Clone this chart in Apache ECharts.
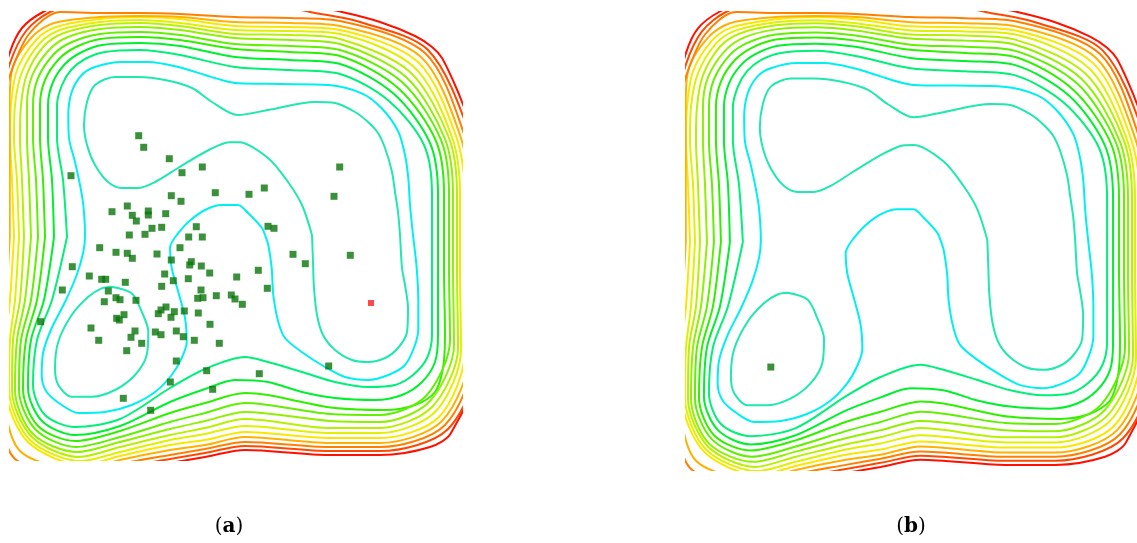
<!DOCTYPE html>
<html><head><meta charset="utf-8">
<script src="https://cdn.jsdelivr.net/npm/echarts@6/dist/echarts.min.js"></script>
<style>html,body{margin:0;padding:0;background:#fff}#c{width:1137px;height:543px}</style>
</head><body><div id="c"></div>
<script>
// colours of the contour levels, innermost (1) to outermost (14)
const levelColors = ['#20e8b0','#00f0f0','#00f07a','#00f030','#30f000','#60f000','#90f000','#b8f000','#e0f000','#f8e800','#ffb000','#ff8000','#ff4800','#ff1000'];

// contour lines, as [x, y] in the panel's data space
const level1a = [[111.7,286.7],[131.7,293.3],[141.7,311.7],[148.3,331.7],[146.7,355],[135,375],[115,390],[91.7,396.7],[71.7,396.7],[58.3,385],[55,368.3],[58.3,341.7],[71.7,315],[88.3,296.7],[101.7,288.3],[111.7,286.7]];
const level1b = [[312,235],[302,205],[288,182],[268,158],[238,142],[225,143],[205,152],[178,168],[155,182],[138,188],[122,188],[108,182],[95,165],[87,145],[84,125],[87,102],[95,85],[115,77],[138,77],[165,80],[192,88],[212,102],[238,115],[268,110],[315,102],[335,103],[355,112],[368,122],[378,133],[385,148],[392,172],[395,192],[398,212],[400,235],[402,268],[405,285],[408,308],[407,332],[398,348],[385,358],[368,362],[352,360],[335,350],[323,335],[317,315],[314,288],[313,262],[312,235]];
const level2 = [[176.7,235],[170,248],[171.7,268],[178.3,292],[185,318],[186.7,342],[181.7,358],[171.7,375],[155,392],[131.7,405],[105,412],[78.3,413],[61.7,405],[46.7,392],[41.7,375],[43.3,352],[51.7,328],[65,302],[76.7,275],[83.3,252],[85,235],[83.3,205],[80,185],[75,162],[69,138],[68.3,115],[71.7,92],[81.7,75],[95,67],[121.7,62],[148.3,62],[178.3,67],[205,75],[221.7,80],[238.3,83.3],[280,84],[328.3,85],[361.7,93.3],[381.7,108.3],[398.3,131.7],[405,155],[408.3,178.3],[410,205],[413,235],[416.7,268],[418.3,302],[418.3,328],[415,345],[405,365],[388.3,375],[368.3,380],[345,377],[325,367],[301.7,352],[285,338],[278.3,322],[273.3,295],[271.7,268],[268.3,245],[265,235],[262,228],[248,213],[238,205],[221.7,205],[205,210],[188.3,222],[176.7,235]];
const level3 = [[67,237],[63,180],[57,138],[57,105],[62,85],[71,70],[85,59],[105,52],[140,50],[180,55],[235,67],[290,70],[340,74],[389,101],[424,145],[432,195],[432,268],[432,335],[427,358],[413,375],[395,385],[368,387],[335,382],[302,372],[268,362],[245,357],[205,369],[170,388],[120,419],[75,427],[45,415],[33,385],[37,340],[52,300],[67,237]];
const level4 = [[54,237],[52,180],[48,138],[48,105],[53,82],[65,64],[80,53],[102,45],[140,43],[180,46],[235,57],[290,60],[340,64],[394,94],[430,143],[438,195],[438,268],[438,335],[435,362],[422,382],[402,395],[375,400],[335,398],[302,392],[268,382],[235,380],[205,389],[170,402],[120,426],[75,435],[42,421],[28,388],[31,340],[44,300],[54,237]];
const level5 = [[45,237],[43,180],[40,138],[40,105],[45,80],[59,59],[76,47],[100,39],[140,37],[180,40],[235,49],[290,52],[340,56],[398,88],[436,141],[444,195],[444,268],[445,335],[443,368],[435,392],[415,405],[385,410],[335,408],[302,402],[268,395],[245,393],[205,403],[170,413],[120,431],[75,441],[38,426],[23,389],[26,340],[37,300],[45,237]];
const level6 = [[38,237],[36,180],[33,138],[33,105],[38,78],[54,54],[72,42],[100,34],[140,32],[180,35],[235,44],[290,46],[340,50],[402,82],[441,140],[449,195],[449,268],[450,340],[426,396],[380,415],[330,414],[245,403],[205,413],[170,422],[120,437],[76,447],[36,430],[19,390],[21,340],[31,300],[38,237]];
const level7 = [[31,237],[29,180],[27,138],[27,105],[32,76],[49,50],[68,37],[100,29],[140,27],[180,30],[235,38],[290,40],[340,44],[406,77],[445,139],[453,195],[453,268],[454,345],[429,402],[380,422],[330,421],[245,412],[205,421],[170,429],[120,442],[77,452],[33,434],[15,390],[17,340],[25,300],[31,237]];
const level8 = [[24,237],[22,180],[20,138],[21,105],[27,74],[44,46],[64,33],[100,25],[140,23],[180,26],[235,34],[290,35],[340,39],[410,72],[449,138],[457,195],[457,268],[458,348],[432,407],[380,428],[330,428],[245,419],[205,428],[170,435],[120,447],[79,457],[32,437],[12,390],[13,340],[20,300],[24,237]];
const level9 = [[19,237],[17,180],[14,138],[15,105],[22,72],[40,43],[60,30],[100,22],[140,20],[180,23],[235,30],[290,31],[340,34],[414,67],[452,137],[460,195],[460,268],[461,350],[435,412],[380,433],[330,433],[245,426],[205,434],[170,440],[120,452],[81,461],[30,440],[9,389],[10,340],[15,300],[19,237]];
const level10 = [[14,237],[12,180],[10,138],[11,105],[17,70],[36,40],[56,27],[100,19],[140,17],[180,19],[235,26],[290,27],[340,30],[418,62],[456,136],[465,195],[465,268],[465,350],[439,417],[380,438],[330,438],[245,432],[205,440],[170,445],[120,456],[83,465],[28,442],[6,388],[6,340],[10,300],[14,237]];
const level11 = [[9.7,237],[9.7,180],[9.7,138],[9.5,110],[12,70],[32,37],[54,23],[100,17],[140,16],[180,17],[235,22],[290,23],[340,26],[421,57],[460,135],[469,195],[469,268],[470,350],[442,421],[380,443],[330,443],[245,437],[205,445],[170,450],[120,460],[85,469],[20,451],[3,387],[2,340],[6,300],[9.7,237]];
const level12 = [[6,237],[5,180],[3,138],[5,100],[10,75],[29,34],[60,12],[100,13],[140,13],[180,14],[235,17],[290,18],[340,21],[425,53],[464,134],[474,195],[474,268],[474,350],[445,425],[380,447],[330,447],[245,442],[205,449],[170,455],[120,464],[87,473],[14,458],[0,386],[-2,340],[2,300],[6,237]];
const level13 = [[2,237],[1,180],[-1,138],[2,100],[10,63],[26,31],[50,12],[80,5],[140,3],[235,5],[290,8],[310,12],[360,22],[428,50],[468,130],[479,195],[479,268],[479,350],[448,429],[380,451],[330,451],[245,446],[205,453],[170,459],[120,468],[89,477],[8,464],[-3,385],[-5,340],[-2,300],[2,237]];
const level14 = [[-2,237],[-3,180],[-5,138],[-2,100],[10,52],[22,28],[43,12],[70,2],[140,-3],[235,-1],[290,2],[342,12],[380,22],[415,36],[432,47],[442,58],[455,85],[462,102],[472,130],[484,195],[484,268],[484,350],[451,433],[430,447],[380,455],[330,455],[245,450],[205,457],[170,463],[120,472],[91,481],[2,470],[-6,384],[-8,340],[-6,300],[-2,237]];

// contour level of each line above (1-based)
const contourLines = [level1a, level1b, level2, level3, level4, level5, level6, level7, level8, level9, level10, level11, level12, level13, level14];
const contourLevels = [1, 1, 2, 3, 4, 5, 6, 7, 8, 9, 10, 11, 12, 13, 14];

// population of panel (a)
const pointsA = [[138.7,135.7],[143.7,147.3],[169.3,158.7],[182,172.7],[202.3,167],[71,175.7],[215.3,192.7],[171.3,195.7],[181,201.3],[112,211.7],[127.3,206],[132.3,215.3],[148.3,211],[148.3,215],[165.7,213.7],[136.3,221],[152,228.3],[161.7,227.3],[196.3,226.7],[129.3,235],[145,234.3],[188.7,237],[202.3,237],
[99.7,247.7],[116,252.3],[127.3,253.3],[132.3,258.3],[157,254],[180,247.7],[171.3,260],[189.7,265],[191.3,261.7],[201.3,266],[72.3,266.7],[89.3,276],[101.7,279.3],[105.7,279.3],[125.3,282.3],[164.7,274],[173.3,280.7],[188.3,278.7],[209.7,273],[236.7,277],[62.3,290],[108.3,291],[161.7,286.3],[201,290],[216.3,295.7],[197.7,298.3],[203,297.7],[231.3,295],[235,299],[104.3,301.7],[116,297.7],[120,299.7],[136,300.3],[166,307],[161,310],[158.3,313.7],[174.3,311.7],[171,317.3],[184.3,311],[198.3,313],[124,314.7],[116.7,318.3],[119.3,320],[40.7,321.7],[210,324.3],[91,328],[135,331],[131,337.3],[155.3,332],[161,334.7],[176.3,331],[183.3,336.7],[194.3,340.3],[98.7,340.3],[141.7,343.3],[126.7,350.7],[219.3,343.3],[176.3,361],[206.7,370.7],[170.3,382],[212.7,389.3],[123.3,398.3],[150.7,410.3],
[339.7,167],[264.3,188],[249,194.3],[334,196.3],[268,226.3],[274,228.3],[293,254.3],[305.3,263.7],[350.3,255.3],[258.3,270.3],[267.3,288.3],[242.3,304.3],[328.7,366],[259.3,373.7]];
const bestA = [[371,303]];
const pointsB = [[95,359.3]];

const panelLabels = ['a', 'b'];

const chart = echarts.init(document.getElementById('c'), null, {renderer: 'canvas'});
const grids = [
  {left: 10, top: 12, width: 452, height: 448},
  {left: 686, top: 12, width: 451, height: 458}
];
const xAxes = grids.map((g, i) => ({gridIndex: i, type: 'value', min: 10, max: 462, show: false}));
const yAxes = grids.map((g, i) => ({gridIndex: i, type: 'value', min: 12, max: 460, inverse: true, show: false}));
const series = [];
for (let p = 0; p < 2; p++) {
  contourLines.forEach((pts, i) => {
    series.push({
      type: 'line', xAxisIndex: p, yAxisIndex: p, data: pts, showSymbol: false, symbol: 'none',
      smooth: 0.3, clip: true, silent: true, animation: false,
      lineStyle: {color: levelColors[contourLevels[i] - 1], width: 2}
    });
  });
}
series.push({type: 'scatter', xAxisIndex: 0, yAxisIndex: 0, data: pointsA, symbol: 'rect', symbolSize: 7, itemStyle: {color: '#0a760a'}, animation: false, z: 5});
series.push({type: 'scatter', xAxisIndex: 0, yAxisIndex: 0, data: bestA, symbol: 'rect', symbolSize: 6, itemStyle: {color: '#ff1a1a'}, animation: false, z: 6});
series.push({type: 'scatter', xAxisIndex: 1, yAxisIndex: 1, data: pointsB, symbol: 'rect', symbolSize: 7, itemStyle: {color: '#0a760a'}, animation: false, z: 5});

const labelX = [229, 911];
chart.setOption({
  animation: false,
  grid: grids,
  xAxis: xAxes,
  yAxis: yAxes,
  series: series,
  graphic: panelLabels.map((t, i) => ({
    type: 'text', x: labelX[i], y: 527,
    style: {
      text: '{n|(}{b|' + t + '}{n|)}',
      align: 'center', verticalAlign: 'middle',
      rich: {
        n: {fontFamily: 'DejaVu Serif', fontSize: 20, fill: '#000'},
        b: {fontFamily: 'DejaVu Serif', fontSize: 20, fontWeight: 'bold', fill: '#000'}
      }
    }
  }))
});
</script>
</body></html>
